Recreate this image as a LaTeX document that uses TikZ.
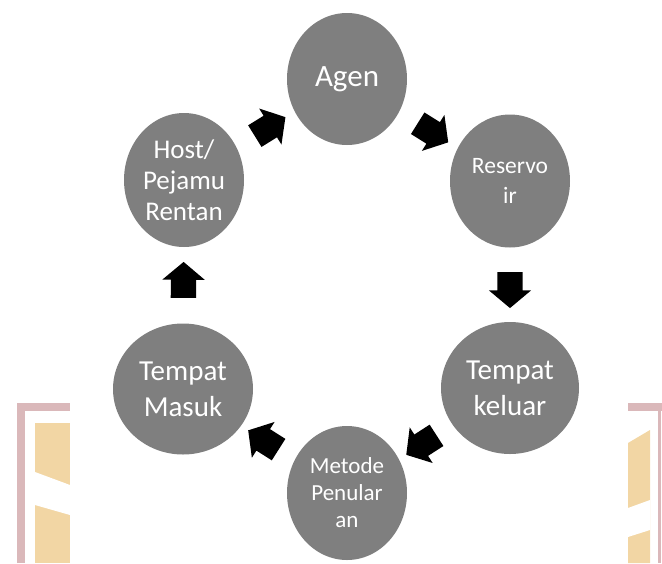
\documentclass[tikz,border=0pt]{standalone}
\usepackage{fontspec}
\setmainfont{Carlito}
\usetikzlibrary{shapes.geometric, shapes.arrows}
\definecolor{abu}{RGB}{127,127,127}
\definecolor{wmpink}{RGB}{218,184,186}
\definecolor{wmpeach}{RGB}{242,214,164}

\begin{document}
\begin{tikzpicture}[x=1pt, y=-1pt,
    tahap/.style={ellipse, fill=abu, text=white, inner sep=0, align=center,
        minimum width=120pt, minimum height=134pt},
    panah/.style={single arrow, fill=black, inner xsep=0, inner ysep=12.5pt,
        minimum height=36pt, minimum width=42pt, single arrow head extend=8.5pt,
        single arrow tip angle=100, sloped, allow upside down}]

\useasboundingbox (0,0) rectangle (662,563);

% Watermark left
\fill[wmpink] (17,403) rectangle (25,563);
\fill[wmpink] (17,403) rectangle (70,411);
\fill[wmpeach] (35,423) rectangle (70,563);
\fill[white] (35,472) -- (70,485) -- (70,515) -- (35,505) -- cycle;

% Watermark right
\fill[wmpink] (628,403) rectangle (662,411);
\fill[wmpink] (658,403) rectangle (661,563);
\fill[wmpeach] (628,443) -- (650,430) -- (650,563) -- (628,563) -- cycle;
\fill[white] (628,508) -- (650,500) -- (650,530) -- (628,537) -- cycle;

% Agen
\node[tahap,
    minimum height=132pt,
    font=\fontsize{31}{36}\selectfont
] (agen) at (347,79) {Agen};

% Reservoir
\node[tahap,
    minimum height=133pt,
    font=\fontsize{23.5}{30}\selectfont
] (res) at (510,181) {Reservo\\ir};

% Tempat keluar
\node[tahap,
    minimum width=138pt,
    minimum height=132pt,
    font=\fontsize{29}{36}\selectfont
] (keluar) at (510,388) {Tempat\\keluar};

% Metode penularan
\node[tahap,
    font=\fontsize{23}{27}\selectfont
] (metode) at (347,493) {Metode\\Penular\\an};

% Tempat masuk
\node[tahap,
    minimum width=140pt,
    minimum height=131pt,
    font=\fontsize{29}{36}\selectfont
] (masuk) at (183,389) {Tempat\\Masuk};

% Host
\node[tahap,
    font=\fontsize{27}{31}\selectfont
] (host) at (184,180) {Host/\\Pejamu\\Rentan};

% Arrows
\path (agen) -- node[panah] (p1) {} (res)
      (res) -- node[panah] (p2) {} (keluar)
      (keluar) -- node[panah] (p3) {} (metode)
      (metode) -- node[panah] (p4) {} (masuk)
      (masuk) -- node[panah] (p5) {} (host)
      (host) -- node[panah] (p6) {} (agen);

\end{tikzpicture}
\end{document}
